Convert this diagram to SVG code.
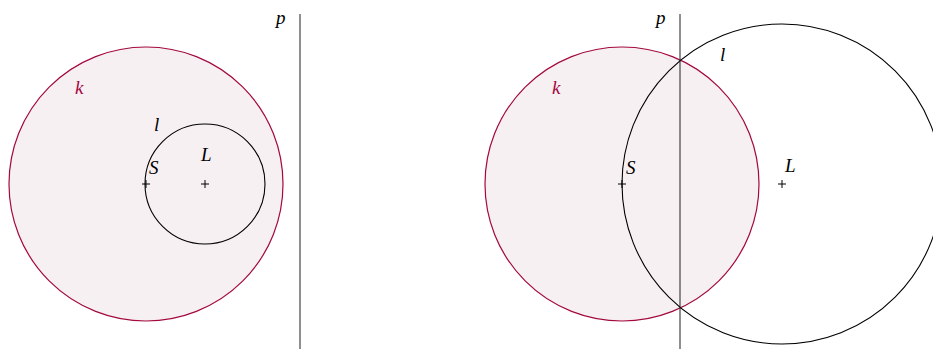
<svg xmlns="http://www.w3.org/2000/svg" width="933" height="349" viewBox="0 0 933 349">
<style>
.k{fill:#f7f0f3;stroke:#a3083f;stroke-width:1.2}
.c{fill:none;stroke:#000;stroke-width:1.1}
.p{stroke:#333;stroke-width:1.1}
.t{font-family:"Liberation Serif",serif;font-style:italic;font-size:19px;fill:#000}
.tk{fill:#a3083f}
.x{stroke:#000;stroke-width:1}
</style>
<rect width="933" height="349" fill="#fff"/>
<g id="left">
<g id="k1"><circle class="k" cx="146" cy="184" r="137"/><text class="t tk" x="75" y="94">k</text></g>
<g id="l1"><circle class="c" cx="205" cy="184" r="60"/><text class="t" x="154" y="131">l</text></g>
<g id="S1"><path class="x" d="M142 184h8M146 180v8"/><text class="t" x="149" y="174">S</text></g>
<g id="L1"><path class="x" d="M201 184h8M205 180v8"/><text class="t" x="201" y="161">L</text></g>
<g id="p1"><line class="p" x1="300" y1="14" x2="300" y2="349"/><text class="t" x="276" y="24">p</text></g>
</g>
<g id="right">
<g id="k2"><circle class="k" cx="622" cy="184" r="137"/><text class="t tk" x="552" y="94">k</text></g>
<g id="p2"><line class="p" x1="680" y1="14" x2="680" y2="349"/><text class="t" x="656" y="24">p</text></g>
<g id="l2"><circle class="c" cx="782" cy="184" r="160"/><text class="t" x="720" y="61">l</text></g>
<g id="S2"><path class="x" d="M618 184h8M622 180v8"/><text class="t" x="626" y="174">S</text></g>
<g id="L2"><path class="x" d="M778 184h8M782 180v8"/><text class="t" x="785" y="172">L</text></g>
</g>
</svg>
